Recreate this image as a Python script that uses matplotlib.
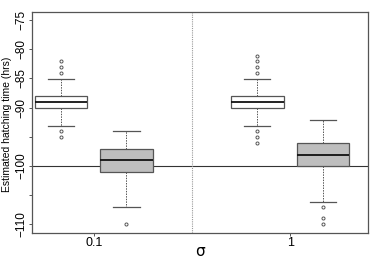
import matplotlib
matplotlib.use("Agg")
import matplotlib.pyplot as plt

# data (hours)
groups = ["0.1", "1"]
positions = [1, 2, 4, 5]
box_colors = ["white", "#bebebe", "white", "#bebebe"]

q1 = [-90.1, -101.1, -90.1, -100.05]
med = [-89.1, -99.0, -89.1, -98.05]
q3 = [-88.1, -97.1, -88.1, -96.1]
whislo = [-93.1, -107.0, -93.1, -106.1]
whishi = [-85.1, -94.05, -85.1, -92.1]
fliers = [
    [-82.05, -83.05, -84.1, -94.0, -95.1],
    [-110.0],
    [-81.1, -82.05, -83.05, -84.1, -94.0, -95.05, -96.05],
    [-107.0, -108.95, -109.95],
]
true_value = -100

stats = []
for i in range(len(positions)):
    stats.append(dict(med=med[i], q1=q1[i], q3=q3[i], whislo=whislo[i],
                      whishi=whishi[i], fliers=fliers[i]))

line_col = "#555555"

fig = plt.figure(figsize=(3.74, 2.65), dpi=100)
ax = fig.add_axes((0.0856, 0.1208, 0.8984, 0.834))

bp = ax.bxp(
    stats,
    positions=positions,
    widths=0.8,
    patch_artist=True,
    showfliers=True,
    boxprops=dict(edgecolor=line_col, linewidth=0.9),
    medianprops=dict(color="#111111", linewidth=1.3),
    whiskerprops=dict(color=line_col, linewidth=0.7, linestyle=(0, (1.5, 1.2))),
    capprops=dict(color=line_col, linewidth=0.9),
    capwidths=0.4,
    flierprops=dict(marker="o", markersize=2.2, markerfacecolor="none",
                    markeredgecolor=line_col, markeredgewidth=0.7),
)
for patch, c in zip(bp["boxes"], box_colors):
    patch.set_facecolor(c)

ax.axhline(true_value, color="#333333", linewidth=0.8, zorder=0.5)
ax.axvline(3, color="#999999", linewidth=0.8, linestyle=(0, (1, 1)))

ax.set_xlim(0.557, 5.69)
ax.set_ylim(-111.47, -73.63)

ax.set_yticks([-75, -80, -85, -90, -95, -100, -105, -110])
ax.set_yticklabels(["\u221275", "\u221280", "\u221285", "\u221290", "",
                    "\u2212100", "", "\u2212110"],
                   rotation=90, va="center", fontsize=8.5,
                   family=["Liberation Sans", "DejaVu Sans"])
ax.set_xticks([1.5, 4.5])
ax.set_xticklabels(groups, fontsize=9, family="Liberation Sans")

ax.tick_params(axis="y", length=2.3, width=0.7, color=line_col, pad=1)
ax.tick_params(axis="x", length=2, width=0.7, color=line_col, pad=1)
for s in ax.spines.values():
    s.set_color(line_col)
    s.set_linewidth(0.9)

ax.set_ylabel("Estimated hatching time (hrs)", fontsize=7.5,
              family="Liberation Sans")
ax.yaxis.set_label_coords(-0.06, 0.49)
ax.set_xlabel("\u03c3", fontsize=11, family="DejaVu Sans")
ax.xaxis.set_label_coords(0.5, -0.052)

fig.savefig("out.png", dpi=100)
